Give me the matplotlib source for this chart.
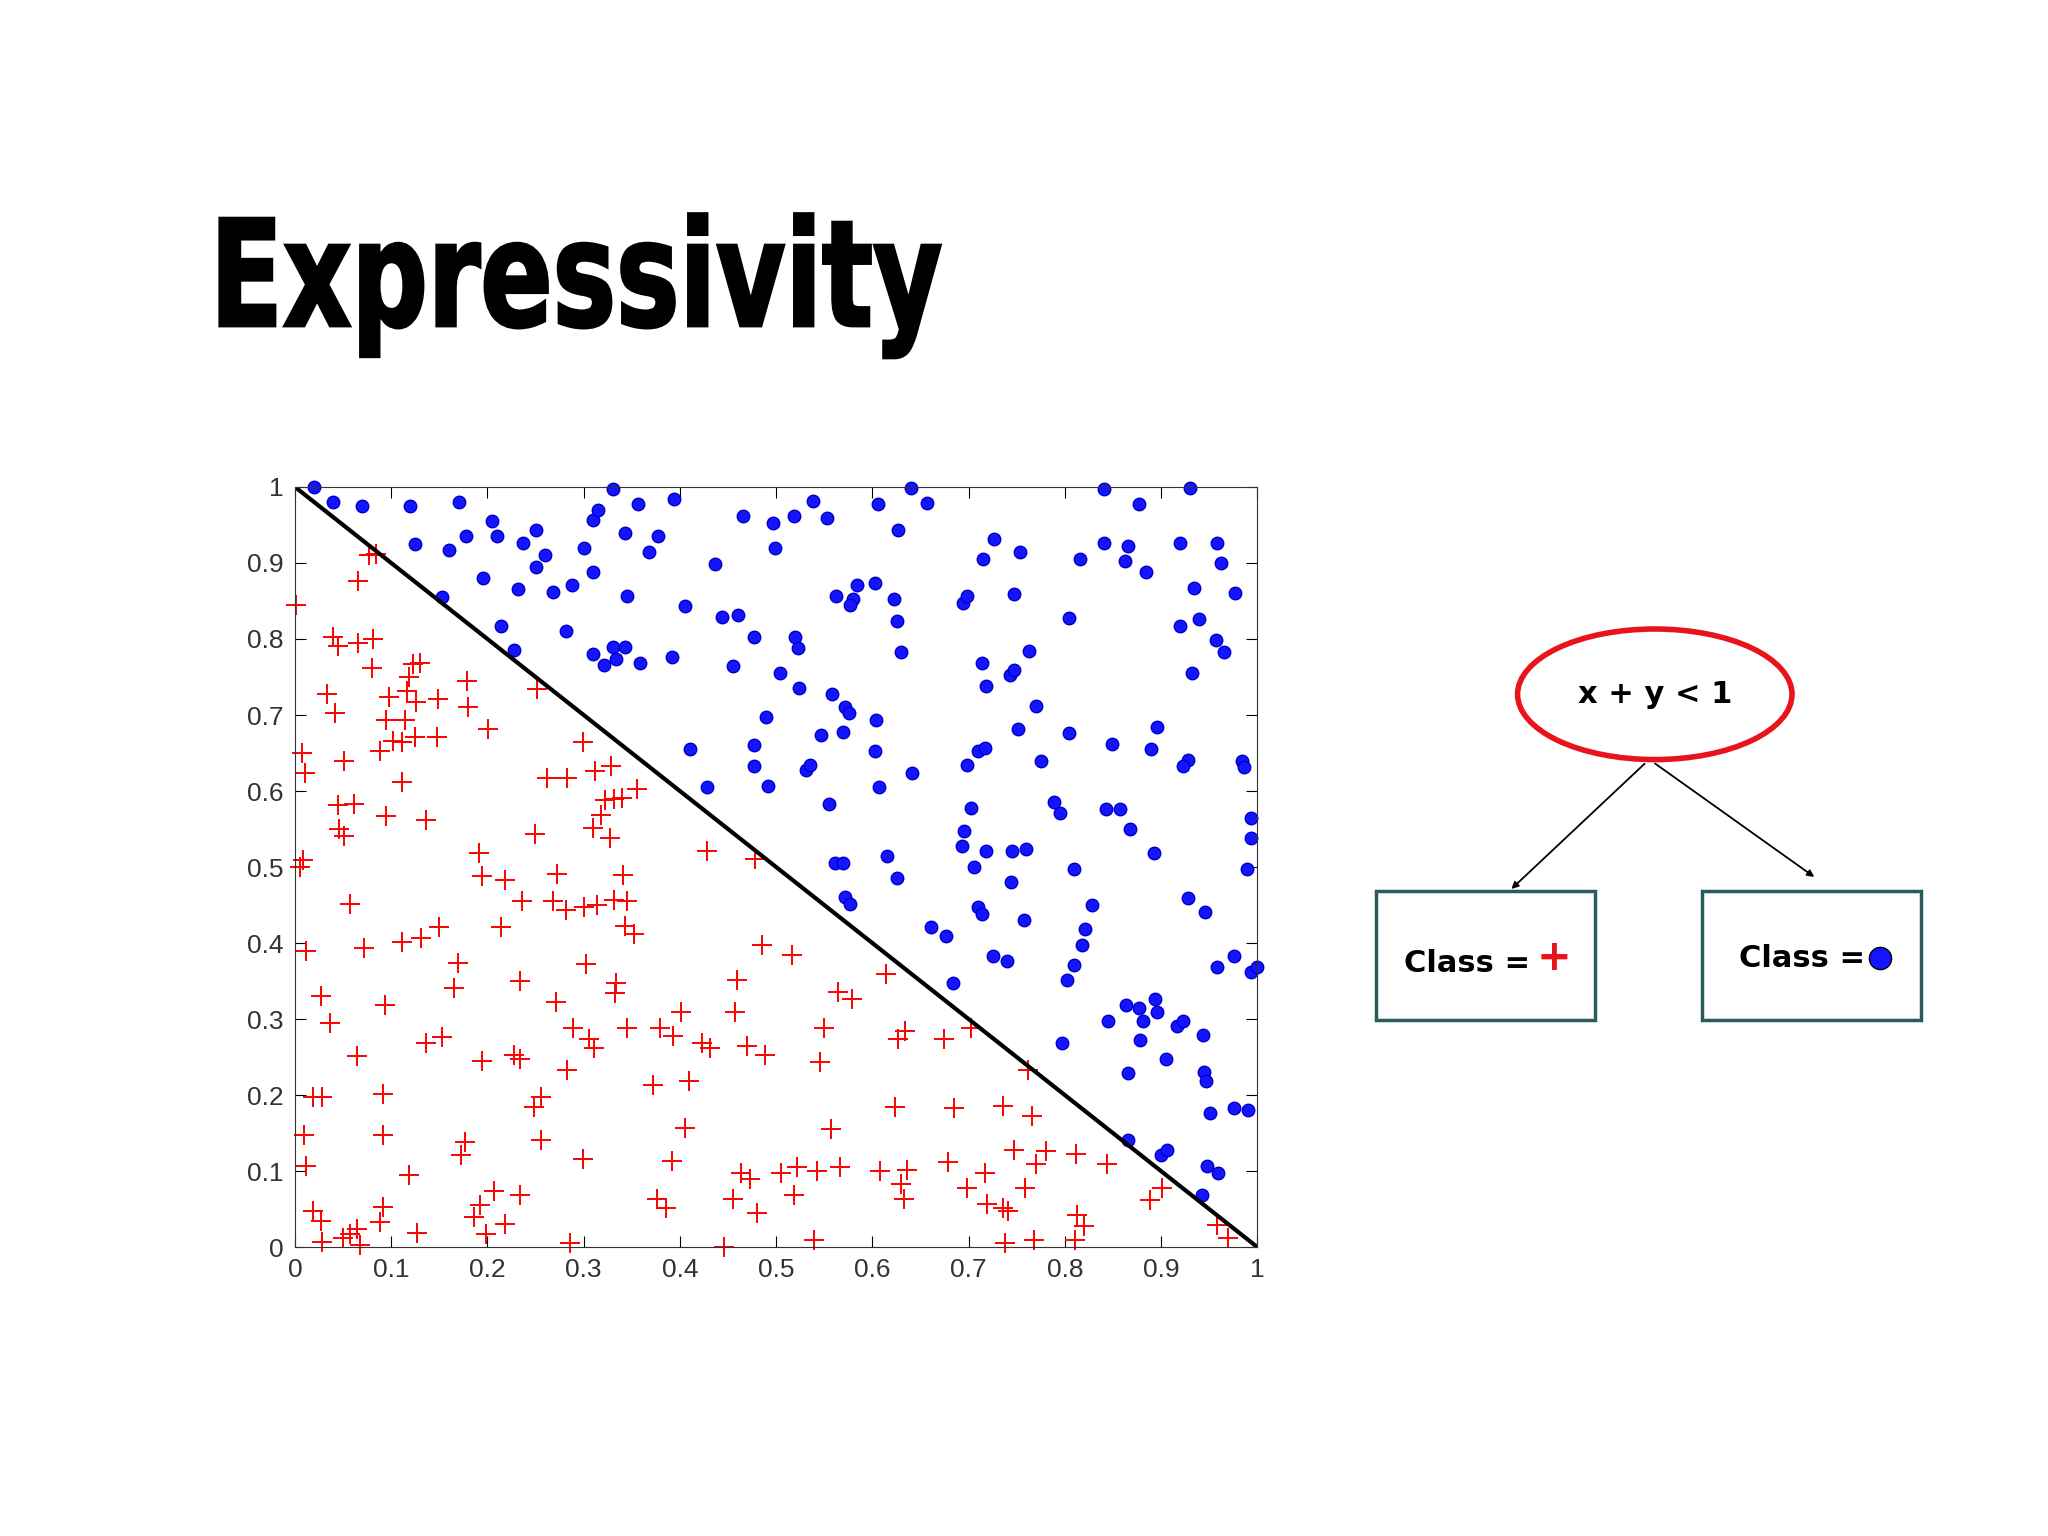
import numpy as np
import matplotlib.pyplot as plt
from matplotlib.patches import Ellipse, Rectangle, FancyArrowPatch, PathPatch
from matplotlib.textpath import TextPath
from matplotlib.font_manager import FontProperties
from matplotlib.transforms import Affine2D

# points (x, y)
blue_x = [0.02, 0.04, 0.07, 0.12, 0.17, 0.205, 0.21, 0.178, 0.125, 0.16, 0.237, 0.25, 0.26, 0.25, 0.232, 0.195, 0.153,
          0.214, 0.228, 0.268, 0.288, 0.282, 0.30, 0.31, 0.315, 0.33, 0.31, 0.343, 0.356, 0.368, 0.377, 0.394, 0.345,
          0.31, 0.33, 0.343, 0.321, 0.334, 0.359, 0.392, 0.405, 0.436, 0.444, 0.46, 0.465, 0.455, 0.477, 0.497, 0.519,
          0.538, 0.553, 0.499, 0.504, 0.524, 0.52, 0.523, 0.562, 0.58, 0.584, 0.577, 0.603, 0.622, 0.625, 0.63, 0.606,
          0.627, 0.64, 0.657, 0.489, 0.477, 0.477, 0.492, 0.41, 0.428, 0.531, 0.535, 0.547, 0.558, 0.572, 0.576, 0.569,
          0.604, 0.603, 0.607, 0.641, 0.555, 0.561, 0.569, 0.572, 0.577, 0.615, 0.626, 0.661, 0.676, 0.684, 0.694,
          0.698, 0.715, 0.726, 0.753, 0.747, 0.714, 0.718, 0.743, 0.747, 0.763, 0.698, 0.71, 0.717, 0.751, 0.77, 0.775,
          0.702, 0.695, 0.693, 0.718, 0.705, 0.745, 0.76, 0.744, 0.71, 0.714, 0.757, 0.725, 0.74, 0.804, 0.816, 0.841,
          0.841, 0.866, 0.862, 0.884, 0.877, 0.93, 0.92, 0.958, 0.962, 0.934, 0.977, 0.939, 0.919, 0.957, 0.965, 0.932,
          0.804, 0.849, 0.896, 0.889, 0.928, 0.923, 0.984, 0.986, 0.789, 0.795, 0.843, 0.857, 0.868, 0.892, 0.993,
          0.993, 0.989, 0.809, 0.828, 0.821, 0.818, 0.809, 0.802, 0.928, 0.945, 0.958, 0.976, 0.993, 0.999, 0.845,
          0.863, 0.877, 0.881, 0.894, 0.896, 0.916, 0.923, 0.943, 0.878, 0.905, 0.865, 0.797, 0.944, 0.947, 0.951,
          0.976, 0.99, 0.866, 0.9, 0.906, 0.948, 0.959, 0.942]
blue_y = [1.0, 0.98, 0.975, 0.975, 0.98, 0.955, 0.935, 0.935, 0.925, 0.917, 0.926, 0.943, 0.91, 0.895, 0.866, 0.88, 0.855,
          0.817, 0.785, 0.862, 0.871, 0.81, 0.92, 0.957, 0.969, 0.997, 0.888, 0.94, 0.978, 0.914, 0.936, 0.984, 0.857,
          0.78, 0.79, 0.79, 0.766, 0.774, 0.769, 0.776, 0.843, 0.898, 0.829, 0.831, 0.962, 0.764, 0.802, 0.953, 0.962,
          0.981, 0.959, 0.919, 0.755, 0.736, 0.803, 0.788, 0.857, 0.853, 0.871, 0.845, 0.874, 0.852, 0.824, 0.783, 0.978,
          0.943, 0.998, 0.979, 0.698, 0.66, 0.633, 0.607, 0.655, 0.605, 0.628, 0.634, 0.674, 0.728, 0.71, 0.702, 0.677,
          0.693, 0.653, 0.605, 0.624, 0.583, 0.505, 0.505, 0.46, 0.452, 0.514, 0.486, 0.421, 0.41, 0.348, 0.847,
          0.857, 0.905, 0.931, 0.914, 0.859, 0.769, 0.738, 0.753, 0.759, 0.784, 0.634, 0.653, 0.657, 0.681, 0.712, 0.64,
          0.578, 0.547, 0.528, 0.521, 0.5, 0.521, 0.524, 0.481, 0.447, 0.438, 0.431, 0.383, 0.376, 0.828, 0.905, 0.997,
          0.926, 0.922, 0.903, 0.888, 0.978, 0.998, 0.926, 0.926, 0.9, 0.867, 0.86, 0.826, 0.817, 0.798, 0.783, 0.755,
          0.676, 0.662, 0.684, 0.655, 0.641, 0.633, 0.64, 0.631, 0.586, 0.571, 0.576, 0.576, 0.55, 0.519, 0.564,
          0.538, 0.497, 0.497, 0.45, 0.419, 0.397, 0.371, 0.352, 0.459, 0.441, 0.369, 0.383, 0.362, 0.369, 0.298,
          0.319, 0.314, 0.298, 0.326, 0.309, 0.291, 0.297, 0.279, 0.272, 0.248, 0.229, 0.269, 0.231, 0.219, 0.176,
          0.183, 0.181, 0.141, 0.121, 0.128, 0.107, 0.097, 0.069]

red_x = [0.001, 0.077, 0.084, 0.066, 0.04, 0.045, 0.066, 0.081, 0.08, 0.033, 0.042, 0.007, 0.01, 0.051, 0.045, 0.061,
         0.046, 0.051, 0.008, 0.005, 0.057, 0.011, 0.072, 0.027, 0.036, 0.065, 0.019, 0.028, 0.009, 0.012, 0.019, 0.027,
         0.028, 0.05, 0.057, 0.065, 0.068, 0.088, 0.092, 0.091, 0.094, 0.091, 0.127, 0.119, 0.095, 0.098, 0.088, 0.102,
         0.111, 0.125, 0.148, 0.114, 0.116, 0.119, 0.123, 0.13, 0.126, 0.149, 0.179, 0.18, 0.201, 0.111, 0.095, 0.136,
         0.111, 0.131, 0.15, 0.169, 0.165, 0.136, 0.153, 0.191, 0.194, 0.218, 0.236, 0.214, 0.234, 0.194, 0.228, 0.234,
         0.248, 0.256, 0.256, 0.177, 0.173, 0.207, 0.192, 0.186, 0.218, 0.199, 0.234, 0.252, 0.249, 0.262, 0.283, 0.299,
         0.272, 0.268, 0.282, 0.3, 0.314, 0.332, 0.345, 0.341, 0.312, 0.328, 0.322, 0.332, 0.34, 0.355, 0.318, 0.31,
         0.327, 0.343, 0.352, 0.302, 0.334, 0.333, 0.271, 0.289, 0.306, 0.311, 0.345, 0.283, 0.299, 0.286, 0.379, 0.401,
         0.393, 0.423, 0.431, 0.372, 0.409, 0.405, 0.392, 0.376, 0.386, 0.428, 0.478, 0.485, 0.516, 0.459, 0.457, 0.47,
         0.488, 0.545, 0.55, 0.564, 0.579, 0.614, 0.627, 0.634, 0.674, 0.702, 0.557, 0.623, 0.685, 0.736, 0.762, 0.766,
         0.747, 0.77, 0.78, 0.811, 0.844, 0.463, 0.473, 0.455, 0.48, 0.505, 0.522, 0.542, 0.566, 0.518, 0.446, 0.539,
         0.608, 0.63, 0.636, 0.633, 0.678, 0.698, 0.717, 0.719, 0.736, 0.741, 0.759, 0.813, 0.82, 0.81, 0.738, 0.768,
         0.888, 0.901, 0.958, 0.969]
red_y = [0.845, 0.91, 0.912, 0.876, 0.802, 0.791, 0.795, 0.8, 0.762, 0.728, 0.702, 0.65, 0.624, 0.64, 0.581, 0.583,
         0.55, 0.541, 0.509, 0.5, 0.452, 0.39, 0.393, 0.331, 0.295, 0.252, 0.197, 0.197, 0.147, 0.107, 0.047, 0.034,
         0.007, 0.012, 0.017, 0.024, 0.003, 0.033, 0.053, 0.202, 0.319, 0.148, 0.019, 0.095, 0.693, 0.724, 0.653, 0.666,
         0.664, 0.671, 0.671, 0.693, 0.731, 0.75, 0.767, 0.769, 0.717, 0.721, 0.745, 0.71, 0.681, 0.612, 0.567, 0.562,
         0.402, 0.407, 0.421, 0.374, 0.341, 0.269, 0.276, 0.519, 0.488, 0.483, 0.455, 0.421, 0.35, 0.245, 0.253, 0.248,
         0.184, 0.197, 0.141, 0.138, 0.121, 0.074, 0.055, 0.04, 0.031, 0.017, 0.069, 0.734, 0.543, 0.617, 0.617, 0.664,
         0.491, 0.455, 0.443, 0.448, 0.45, 0.457, 0.455, 0.49, 0.626, 0.633, 0.588, 0.59, 0.591, 0.603, 0.569, 0.552,
         0.538, 0.422, 0.412, 0.372, 0.348, 0.334, 0.322, 0.288, 0.274, 0.262, 0.288, 0.233, 0.116, 0.005, 0.288, 0.309,
         0.278, 0.269, 0.262, 0.214, 0.219, 0.157, 0.114, 0.064, 0.052, 0.521, 0.51, 0.398, 0.384, 0.352, 0.31, 0.265,
         0.253, 0.243, 0.288, 0.336, 0.326, 0.36, 0.274, 0.284, 0.274, 0.288, 0.155, 0.184, 0.183, 0.186, 0.233, 0.172,
         0.128, 0.11, 0.126, 0.122, 0.109, 0.098, 0.09, 0.064, 0.045, 0.098, 0.105, 0.1, 0.105, 0.069, 0.0, 0.01,
         0.1, 0.083, 0.102, 0.064, 0.112, 0.078, 0.097, 0.057, 0.052, 0.048, 0.078, 0.043, 0.028, 0.01, 0.005, 0.009,
         0.062, 0.078, 0.029, 0.012]

ticks = [0, 0.1, 0.2, 0.3, 0.4, 0.5, 0.6, 0.7, 0.8, 0.9, 1]
tick_labels = ['0', '0.1', '0.2', '0.3', '0.4', '0.5', '0.6', '0.7', '0.8', '0.9', '1']

fig = plt.figure(figsize=(20.48, 15.36), dpi=100)
fig.patch.set_facecolor('white')

# heavy condensed title: squeeze a bold text path horizontally (pixel coords)
title_path = TextPath((0, 0), 'Expressivity', size=148,
                      prop=FontProperties(family='DejaVu Sans', weight='bold'))
fig.add_artist(PathPatch(title_path, facecolor='black', edgecolor='black', lw=2,
                         transform=Affine2D().scale(0.72, 1.0).translate(210, 1210)))

ax = fig.add_axes([0.144, 0.188, 0.47, 0.495])
ax.plot(red_x, red_y, '+', color='#ff0000', markersize=15, markeredgewidth=1.4, clip_on=False)
ax.plot(blue_x, blue_y, 'o', color='#1414ff', markeredgecolor='#0000cc', markersize=9, clip_on=False)
ax.plot([0, 1], [1, 0], color='black', lw=3)
ax.set_xlim(0, 1)
ax.set_ylim(0, 1)
ax.set_xticks(ticks)
ax.set_xticklabels(tick_labels)
ax.set_yticks(ticks)
ax.set_yticklabels(tick_labels)
ax.tick_params(direction='in', length=8, top=True, right=True, labelsize=19, labelcolor='#333333', pad=8)
for lbl in ax.get_xticklabels() + ax.get_yticklabels():
    lbl.set_family(['Liberation Sans', 'DejaVu Sans'])
for s in ax.spines.values():
    s.set_color('#333333')

# decision tree diagram
fig.add_artist(Ellipse((0.808, 0.548), 0.134, 0.085, transform=fig.transFigure,
                       facecolor='white', edgecolor='#e8141c', lw=4))
fig.text(0.808, 0.548, 'x + y < 1', fontsize=22, fontweight='bold', ha='center', va='center')

teal = '#2a5c5c'
fig.add_artist(Rectangle((0.672, 0.336), 0.107, 0.084, transform=fig.transFigure,
                         facecolor='white', edgecolor=teal, lw=2.5))
fig.add_artist(Rectangle((0.831, 0.336), 0.107, 0.084, transform=fig.transFigure,
                         facecolor='white', edgecolor=teal, lw=2.5))
fig.text(0.719, 0.373, 'Class = ', fontsize=22, fontweight='bold', ha='center', va='center')
fig.text(0.759, 0.376, '+', fontsize=30, fontweight='bold', color='#e8141c', ha='center', va='center')
fig.text(0.880, 0.376, 'Class =', fontsize=22, fontweight='bold', ha='center', va='center')
fig.add_artist(plt.Line2D([0.918], [0.376], marker='o', markersize=16, color='#1414ff',
                          markeredgecolor='black', transform=fig.transFigure))

for start, end in [((0.804, 0.504), (0.737, 0.420)), ((0.807, 0.504), (0.887, 0.428))]:
    fig.add_artist(FancyArrowPatch(start, end, transform=fig.transFigure, arrowstyle='-|>',
                                   mutation_scale=10, lw=1.3, color='black'))

fig.savefig('out.png', dpi=100)
